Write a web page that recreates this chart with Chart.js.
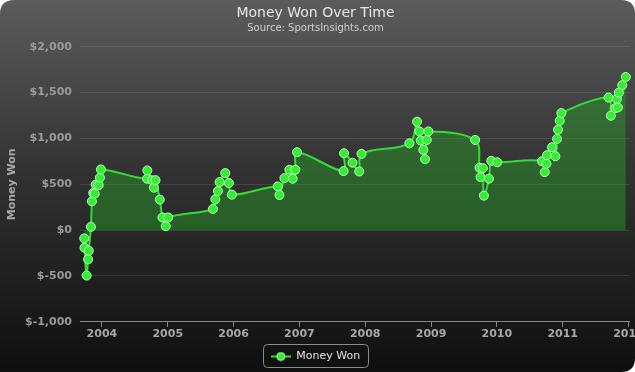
<!DOCTYPE html>
<html>
<head>
<meta charset="utf-8">
<script src="https://cdn.jsdelivr.net/npm/chart.js@4.4.1/dist/chart.umd.min.js"></script>
<style>
  html, body { margin: 0; padding: 0; background: #ffffff; }
  #wrap { position: relative; width: 635px; height: 372px; overflow: hidden; }
  canvas { display: block; }
</style>
</head>
<body>
<div id="wrap"><canvas id="c" width="635" height="372"></canvas></div>
<script>
// ---- data (decimal years, dollars) ----
const moneyDates = [
  2003.732, 2003.735, 2003.768, 2003.790, 2003.800, 2003.833, 2003.848, 2003.868, 2003.890, 2003.905, 2003.950, 2003.970, 2003.985,
  2004.686, 2004.690, 2004.765, 2004.790, 2004.814, 2004.879, 2004.920, 2004.970, 2005.005,
  2005.686, 2005.723, 2005.762, 2005.788, 2005.874, 2005.929, 2005.974,
  2006.671, 2006.697, 2006.773, 2006.848, 2006.898, 2006.939, 2006.965,
  2007.671, 2007.678, 2007.808, 2007.909, 2007.944,
  2008.671, 2008.788, 2008.823, 2008.844, 2008.883, 2008.909, 2008.935, 2008.959,
  2009.670, 2009.737, 2009.753, 2009.788, 2009.803, 2009.879, 2009.914, 2010.005,
  2010.686, 2010.727, 2010.753, 2010.762, 2010.838, 2010.889, 2010.914, 2010.929, 2010.955, 2010.980,
  2011.697, 2011.732, 2011.798, 2011.823, 2011.838, 2011.853, 2011.905, 2011.959
];
const moneyValues = [
  -90, -192, -496, -318, -225, 36, 315, 405, 398, 496, 490, 572, 662,
  561, 651, 543, 463, 545, 333, 138, 43, 138,
  231, 336, 426, 524, 622, 513, 387,
  477, 383, 567, 659, 561, 659, 850,
  644, 839, 735, 640, 832,
  947, 1183, 1077, 977, 876, 774, 984, 1077,
  984, 680, 578, 676, 376, 561, 756, 741,
  752, 633, 724, 817, 904, 806, 995, 1096, 1193, 1277,
  1446, 1248, 1331, 1429, 1338, 1500, 1581, 1671
];
const xTickYears = [2004, 2005, 2006, 2007, 2008, 2009, 2010, 2011, 2012];
const yTickValues = [-1000, -500, 0, 500, 1000, 1500, 2000];
const seriesName = 'Money Won';

function fmtMoney(v) {
  const s = Math.abs(v).toLocaleString('en-US');
  return '$' + (v < 0 ? '-' : '') + s;
}

// legend marker: short line with a circle
const marker = document.createElement('canvas');
marker.width = 20; marker.height = 10;
(function () {
  const g = marker.getContext('2d');
  g.strokeStyle = '#33dd33'; g.lineWidth = 2;
  g.beginPath(); g.moveTo(0, 5); g.lineTo(20, 5); g.stroke();
  g.fillStyle = '#33ee33'; g.strokeStyle = '#b8ffb8'; g.lineWidth = 1;
  g.beginPath(); g.arc(10, 5, 4, 0, Math.PI * 2); g.fill(); g.stroke();
})();

const bgPlugin = {
  id: 'bg',
  beforeDraw(chart) {
    const ctx = chart.ctx, w = chart.width, h = chart.height, r = 14;
    ctx.save();
    const grd = ctx.createLinearGradient(0, 0, 0, h);
    grd.addColorStop(0, '#5c5c5c');
    grd.addColorStop(0.45, '#333333');
    grd.addColorStop(1, '#0f0f0f');
    ctx.fillStyle = grd;
    ctx.beginPath();
    ctx.moveTo(r, 0);
    ctx.lineTo(w - r, 0); ctx.quadraticCurveTo(w, 0, w, r);
    ctx.lineTo(w, h - r); ctx.quadraticCurveTo(w, h, w - r, h);
    ctx.lineTo(0, h);
    ctx.lineTo(0, r); ctx.quadraticCurveTo(0, 0, r, 0);
    ctx.closePath();
    ctx.fill();
    ctx.restore();
  }
};

const legendBoxPlugin = {
  id: 'legendBox',
  afterDraw(chart) {
    const lg = chart.legend;
    if (!lg || !lg.legendHitBoxes || !lg.legendHitBoxes.length) return;
    const hb = lg.legendHitBoxes[0];
    const x = hb.left - 8, y = hb.top - 7, w = hb.width + 16, h = hb.height + 12, r = 4;
    const ctx = chart.ctx;
    ctx.save();
    ctx.strokeStyle = '#8a8a8a'; ctx.lineWidth = 1;
    ctx.beginPath();
    ctx.roundRect(Math.round(x) + 0.5, Math.round(y) + 0.5, Math.round(w), Math.round(h), r);
    ctx.stroke();
    ctx.restore();
  }
};

const points = moneyDates.map((d, i) => ({ x: d, y: moneyValues[i] }));

new Chart(document.getElementById('c'), {
  type: 'line',
  data: {
    datasets: [{
      label: seriesName,
      data: points,
      borderColor: '#33dd33',
      borderWidth: 2,
      backgroundColor: 'rgba(40,160,40,0.45)',
      fill: 'origin',
      tension: 0.35,
      pointRadius: 4.5,
      pointBackgroundColor: '#33ee33',
      pointBorderColor: '#b8ffb8',
      pointBorderWidth: 1,
      pointStyle: 'circle',
      clip: 6
    }]
  },
  options: {
    responsive: false,
    animation: false,
    devicePixelRatio: 1,
    layout: { padding: { left: 0, right: 4, top: 0, bottom: 0 } },
    plugins: {
      title: {
        display: true,
        text: 'Money Won Over Time',
        color: '#e6e6e6',
        font: { family: 'DejaVu Sans', size: 14, weight: 'normal' },
        padding: { top: 5, bottom: 0 }
      },
      subtitle: {
        display: true,
        text: 'Source: SportsInsights.com',
        color: '#d0d0d0',
        font: { family: 'DejaVu Sans', size: 10, weight: 'normal' },
        padding: { top: 1, bottom: 12 }
      },
      legend: {
        display: true,
        position: 'bottom',
        labels: {
          color: '#e0e0e0',
          font: { family: 'DejaVu Sans', size: 11 },
          usePointStyle: true,
          pointStyle: marker,
          pointStyleWidth: 20,
          boxHeight: 10,
          padding: 9,
          generateLabels(chart) {
            return [{ text: seriesName, pointStyle: marker, fillStyle: '#33ee33', strokeStyle: '#33dd33', lineWidth: 0, fontColor: '#e0e0e0', datasetIndex: 0 }];
          }
        }
      },
      tooltip: { enabled: false }
    },
    scales: {
      x: {
        type: 'linear',
        min: 2003.667,
        max: 2012.015,
        afterBuildTicks(s) { s.ticks = xTickYears.map(v => ({ value: v })); },
        afterFit(s) { s.paddingLeft = 0; s.paddingRight = 0; },
        ticks: {
          color: '#a8a8a8',
          font: { family: 'DejaVu Sans', size: 11, weight: 'bold' },
          padding: 1,
          maxRotation: 0,
          autoSkip: false,
          callback: v => String(v)
        },
        grid: { drawOnChartArea: false, drawTicks: true, tickLength: 5, color: '#8a8a8a' },
        border: { display: true, color: '#8a8a8a', width: 1 }
      },
      y: {
        type: 'linear',
        min: -1000,
        max: 2000,
        afterBuildTicks(s) { s.ticks = yTickValues.map(v => ({ value: v })); },
        afterFit(s) { s.width = 80; },
        ticks: {
          color: '#9a9a9a',
          font: { family: 'DejaVu Sans', size: 11, weight: 'bold' },
          padding: 8,
          callback: v => fmtMoney(v)
        },
        grid: { color: 'rgba(255,255,255,0.10)', drawTicks: false, lineWidth: 1 },
        border: { display: false },
        title: {
          display: true,
          text: 'Money Won',
          color: '#a8a8a8',
          font: { family: 'DejaVu Sans', size: 11, weight: 'bold' },
          padding: { top: 6, bottom: 0 }
        }
      }
    }
  },
  plugins: [bgPlugin, legendBoxPlugin]
});
</script>
</body>
</html>
